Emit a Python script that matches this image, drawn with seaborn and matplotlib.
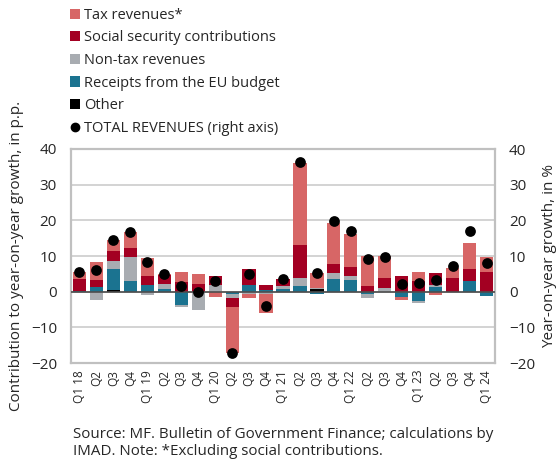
import numpy as np
import pandas as pd
import matplotlib
matplotlib.use("Agg")
import matplotlib.pyplot as plt
from matplotlib.patches import Patch
from matplotlib.lines import Line2D
import seaborn as sns

quarters = ["Q1 18", "Q2", "Q3", "Q4", "Q1 19", "Q2", "Q3", "Q4",
            "Q1 20", "Q2", "Q3", "Q4", "Q1 21", "Q2", "Q3", "Q4",
            "Q1 22", "Q2", "Q3", "Q4", "Q1 23", "Q2", "Q3", "Q4", "Q1 24"]

tax = [2.0, 5.0, 3.1, 4.4, 5.0, 0.2, 2.8, 2.8, -1.5, -12.9, -1.2, -5.4, 0.0,
       22.8, 4.3, 11.5, 9.2, 8.4, 6.4, -0.6, 2.5, -1.0, 2.7, 7.4, 4.3]
social = [3.2, 2.2, 2.8, 2.5, 2.6, 2.5, 2.7, 2.2, 2.5, -2.5, 4.5, 1.4, 2.0,
          9.5, 0.0, 2.6, 2.7, 1.5, 2.6, 4.3, 3.0, 3.3, 3.8, 3.3, 5.5]
nontax = [0.0, -2.4, 2.2, 6.7, -0.9, 1.5, -0.6, -5.2, 1.9, -1.0, -0.4, -0.6, 0.8,
          2.2, 0.2, 1.6, 0.9, -1.2, 1.1, 0.0, -0.8, 0.6, 0.0, 0.0, 0.0]
eu = [0.3, 1.2, 5.8, 3.0, 1.8, 0.7, -3.6, 0.0, 0.0, -0.7, 1.9, 0.5, 0.8,
      1.5, -0.6, 3.5, 3.4, -0.6, 0.0, -1.6, -2.5, 1.4, 0.0, 3.0, -1.1]
other = [0.0, 0.0, 0.5, 0.0, 0.0, 0.0, 0.0, 0.0, 0.0, 0.0, -0.2, 0.0, 0.0,
         0.0, 0.8, 0.0, 0.0, 0.0, 0.0, 0.0, 0.0, 0.0, 0.0, 0.0, 0.0]
total = [5.5, 6.1, 14.5, 16.8, 8.3, 5.0, 1.5, -0.1, 3.0, -17.1, 4.9, -4.0, 3.6,
         36.3, 5.3, 19.8, 17.0, 9.2, 9.8, 2.1, 2.3, 3.3, 7.1, 17.0, 8.0]

series = [
    ("Other", other, "#000000"),
    ("Receipts from the EU budget", eu, "#1b7390"),
    ("Non-tax revenues", nontax, "#a8acb1"),
    ("Social security contributions", social, "#a30022"),
    ("Tax revenues*", tax, "#d76666"),
]

sns.set_theme(style="white")
plt.rcParams["font.family"] = ["Open Sans", "DejaVu Sans"]

fig = plt.figure(figsize=(5.58, 4.65), dpi=100)
ax = fig.add_axes([71 / 558, 1 - 363 / 465, 424 / 558, 214 / 465])

x = np.arange(len(quarters))
pos_base = np.zeros(len(quarters))
neg_base = np.zeros(len(quarters))
for name, vals, color in series:
    v = np.array(vals, dtype=float)
    bottoms = np.where(v >= 0, pos_base, neg_base)
    ax.bar(x, v, bottom=bottoms, width=0.78, color=color, linewidth=0, zorder=2)
    pos_base += np.where(v >= 0, v, 0)
    neg_base += np.where(v < 0, v, 0)

ax.set_xlim(-0.5, len(quarters) - 0.5)
ax.set_ylim(-20, 40)
ax.set_yticks(np.arange(-20, 41, 10))
ax.yaxis.grid(True, color="#d0d0d0", linewidth=1.3, zorder=0)
ax.set_axisbelow(True)
ax.axhline(0, color="#4d4d4d", linewidth=1.2, zorder=3)
ax.set_xticks(x)
ax.set_xticklabels(quarters, rotation=90, fontsize=8.5)
ax.tick_params(axis="both", length=0, pad=5)
ax.tick_params(axis="y", labelsize=11, pad=10)
for s in ax.spines.values():
    s.set_color("#c0c0c0")
    s.set_linewidth(1.6)
ax.set_ylabel("Contribution to year-on-year growth, in p.p.", fontsize=11, labelpad=5)

ax2 = ax.twinx()
df = pd.DataFrame({"x": x, "total": total})
sns.scatterplot(data=df, x="x", y="total", ax=ax2, color="black", s=60,
                edgecolor="black", linewidth=0, zorder=5)
ax2.set_ylim(-20, 40)
ax2.set_yticks(np.arange(-20, 41, 10))
ax2.set_xlim(-0.5, len(quarters) - 0.5)
ax2.tick_params(axis="y", length=0, labelsize=11, pad=10)
ax2.set_ylabel("Year-on-year growth, in %", fontsize=11, labelpad=5)
for s in ax2.spines.values():
    s.set_visible(False)

handles = [Patch(facecolor=c, edgecolor="none") for _, _, c in series[::-1]]
labels = [n for n, _, _ in series[::-1]]
handles.append(Line2D([], [], marker="o", color="black", linestyle="none", markersize=6))
labels.append("TOTAL REVENUES (right axis)")
fig.legend(handles, labels, loc="upper left", bbox_to_anchor=(64 / 558, 1 - 2 / 465),
           frameon=False, fontsize=10.5, handlelength=0.7, handleheight=0.7,
           handletextpad=0.3, labelspacing=0.52, borderaxespad=0)

fig.text(73 / 558, 1 - 427 / 465,
         "Source: MF. Bulletin of Government Finance; calculations by\n"
         "IMAD. Note: *Excluding social contributions.",
         fontsize=10.9, va="top", ha="left", linespacing=1.15)

fig.savefig("out.png", dpi=100)
